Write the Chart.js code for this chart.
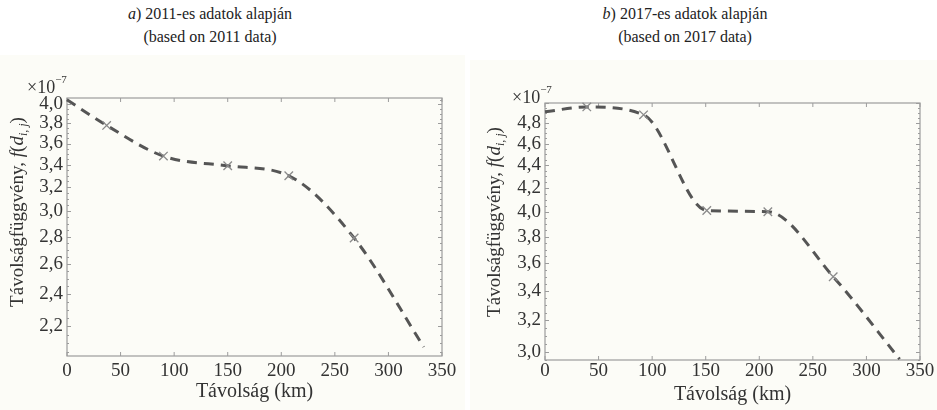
<!DOCTYPE html>
<html>
<head>
<meta charset="utf-8">
<script src="https://cdn.jsdelivr.net/npm/chart.js@4.4.1/dist/chart.umd.min.js"></script>
<style>
  body { margin: 0; width: 937px; height: 410px; position: relative; overflow: hidden; background: #fff;
         font-family: "Liberation Serif", "DejaVu Serif", serif; color: #333; }
  .panel { position: absolute; background: #fcfcf7; }
  .panel canvas { display: block; }
  .title { position: absolute; width: 300px; text-align: center; font-size: 16px; line-height: 23px; color: #222; }
  .ytitle { position: absolute; white-space: nowrap; font-size: 19px; line-height: 20px;
            transform: translate(-50%, -50%) rotate(-90deg); }
  .ytitle sub { font-size: 12px; }
  .exp { position: absolute; font-size: 18px; line-height: 18px; white-space: nowrap; }
  .exp sup { font-size: 11px; position: relative; top: -3px; }
</style>
</head>
<body>
<div class="title" style="left:60px;top:2px"><i>a</i>) 2011-es adatok alapján<br>(based on 2011 data)</div>
<div class="title" style="left:535px;top:2px"><i>b</i>) 2017-es adatok alapján<br>(based on 2017 data)</div>

<div class="panel" style="left:0;top:55px;width:465px;height:355px"><canvas id="chartA" width="465" height="355"></canvas></div>
<div class="panel" style="left:470px;top:60px;width:467px;height:350px"><canvas id="chartB" width="467" height="350"></canvas></div>

<div class="ytitle" style="left:20px;top:212px">Távolságfüggvény, <i>f</i>(<i>d</i><sub><i>i</i>, <i>j</i></sub>)</div>
<div class="ytitle" style="left:497px;top:222px">Távolságfüggvény, <i>f</i>(<i>d</i><sub><i>i</i>, <i>j</i></sub>)</div>
<div class="exp" style="left:27px;top:73px">×10<sup>−7</sup></div>
<div class="exp" style="left:512px;top:83px">×10<sup>−7</sup></div>

<script>
// distance (km) and distance function (x 10^-7)
const dist2011 = [0, 37, 90, 150, 207, 268, 333];
const val2011 = [4.05, 3.78, 3.48, 3.39, 3.30, 2.79, 2.08];
const dist2017 = [0, 39, 92, 151, 208, 269, 331];
const val2017 = [4.91, 4.96, 4.88, 4.01, 4.00, 3.50, 2.955];

const xTicks = [0, 50, 100, 150, 200, 250, 300, 350];
const yTicks2011 = [2.2, 2.4, 2.6, 2.8, 3.0, 3.2, 3.4, 3.6, 3.8, 4.0];
const yTicks2017 = [3.0, 3.2, 3.4, 3.6, 3.8, 4.0, 4.2, 4.4, 4.6, 4.8];

const serif = '"Liberation Serif", "DejaVu Serif", serif';

// box round the plot with inward ticks, matlab style
const frame = {
  id: 'frame',
  beforeDatasetsDraw(chart) {
    const { ctx, chartArea: a, scales: { x, y } } = chart;
    ctx.save();
    ctx.strokeStyle = '#9c9c9c';
    ctx.lineWidth = 1.2;
    ctx.strokeRect(a.left, a.top, a.right - a.left, a.bottom - a.top);
    ctx.beginPath();
    ctx.lineWidth = 1;
    x.ticks.forEach(t => {
      const px = x.getPixelForValue(t.value);
      ctx.moveTo(px, a.bottom); ctx.lineTo(px, a.bottom - 4);
      ctx.moveTo(px, a.top); ctx.lineTo(px, a.top + 4);
    });
    for (let v = Math.ceil(y.min * 20) / 20; v <= y.max; v += 0.05) {
      const major = Math.abs(v * 5 - Math.round(v * 5)) < 1e-6;
      const len = major ? 4 : 2;
      const py = Math.round(y.getPixelForValue(v)) + 0.5;
      ctx.moveTo(a.left, py); ctx.lineTo(a.left + len, py);
      ctx.moveTo(a.right, py); ctx.lineTo(a.right - len, py);
    }
    ctx.stroke();
    ctx.restore();
  }
};

function makeChart(id, dist, vals, yTicks, yMin, yMax, pad, yWidth, xHeight, tickPad, titlePad) {
  const last = dist.length - 1;
  return new Chart(document.getElementById(id), {
    type: 'line',
    data: {
      datasets: [{
        data: dist.map((d, i) => ({ x: d, y: vals[i] })),
        borderColor: '#555',
        borderWidth: 3,
        borderDash: [10, 7],
        cubicInterpolationMode: 'monotone',
        pointStyle: 'crossRot',
        pointRadius: c => (c.dataIndex === 0 || c.dataIndex === last) ? 0 : 6,
        pointBorderColor: '#8a8a8a',
        pointBorderWidth: 1.3,
        clip: false
      }]
    },
    options: {
      responsive: false,
      animation: false,
      layout: { padding: pad },
      plugins: { legend: { display: false }, tooltip: { enabled: false } },
      scales: {
        x: {
          type: 'linear',
          min: 0,
          max: 350,
          afterBuildTicks: s => { s.ticks = xTicks.map(v => ({ value: v })); },
          afterFit: s => { s.height = xHeight; },
          grid: { display: false, drawTicks: false },
          border: { display: false },
          ticks: { color: '#333', font: { family: serif, size: 19 }, padding: tickPad, maxRotation: 0, autoSkip: false },
          title: { display: true, text: 'Távolság (km)', color: '#333',
                   font: { family: serif, size: 20 }, padding: { top: 0, bottom: titlePad } }
        },
        y: {
          type: 'logarithmic',
          min: yMin,
          max: yMax,
          afterBuildTicks: s => { s.ticks = yTicks.map(v => ({ value: v })); },
          afterFit: s => { s.width = yWidth; },
          grid: { display: false, drawTicks: false },
          border: { display: false },
          ticks: { color: '#333', font: { family: serif, size: 19 }, padding: 4, autoSkip: false,
                   callback: v => v.toFixed(1).replace('.', ',') }
        }
      }
    },
    plugins: [frame]
  });
}

makeChart('chartA', dist2011, val2011, yTicks2011, 2.03, 4.07, { top: 43, right: 23, left: 0, bottom: 0 }, 67, 54, 4, 6);
makeChart('chartB', dist2017, val2017, yTicks2017, 2.95, 5.0, { top: 43, right: 17, left: 0, bottom: 0 }, 75, 50, 0, 3);
</script>
</body>
</html>
